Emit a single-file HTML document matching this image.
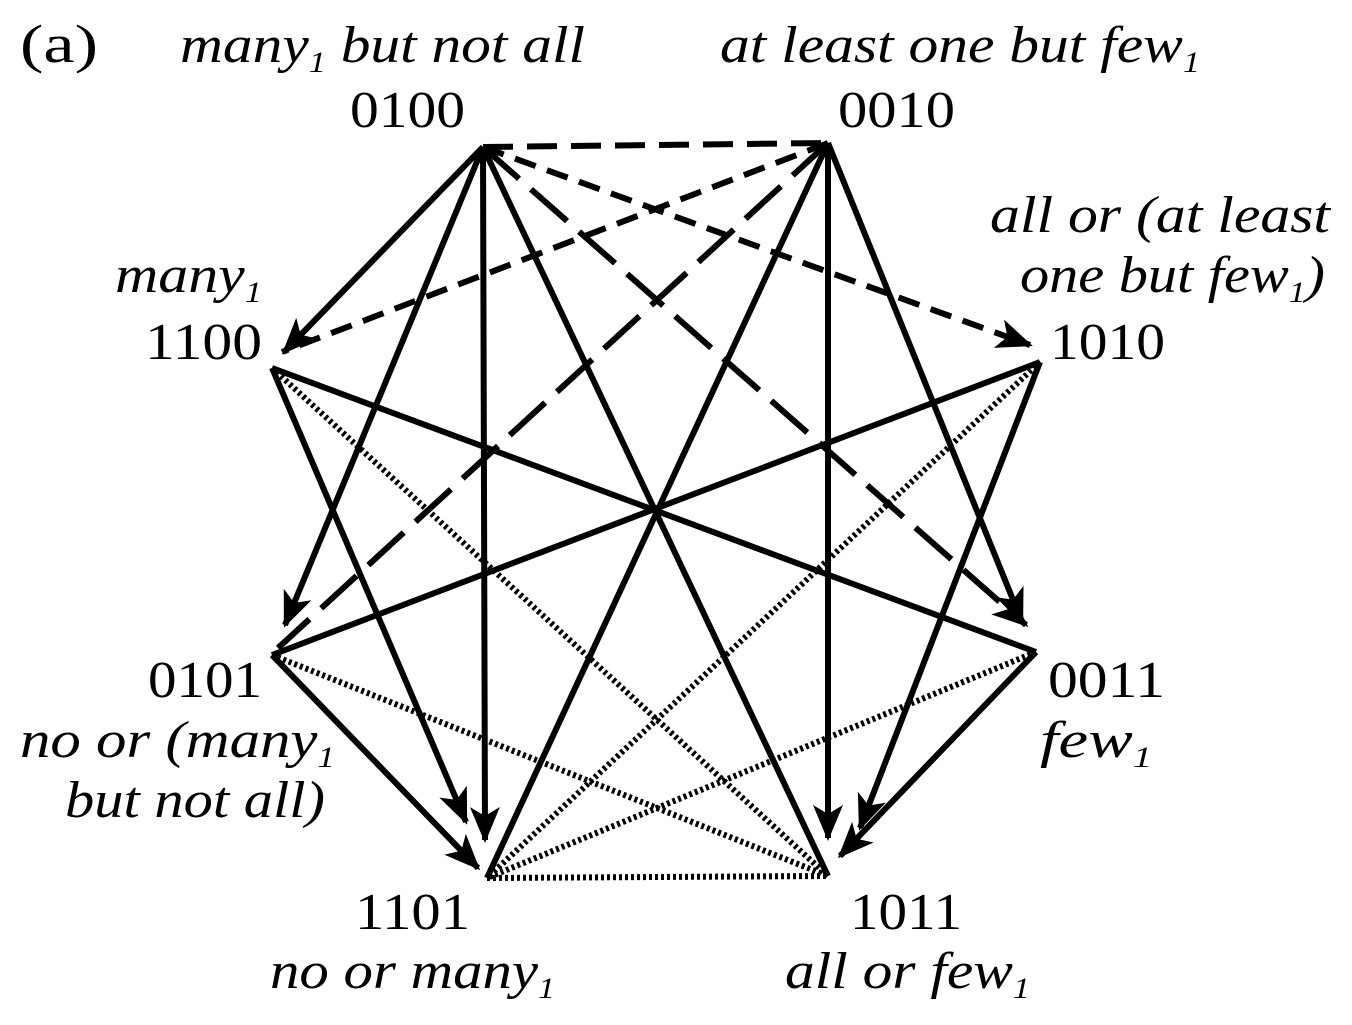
<!DOCTYPE html>
<html><head><meta charset="utf-8"><style>
html,body{margin:0;padding:0;background:#fff;}
svg{display:block;}
text{font-family:"Liberation Serif",serif;font-size:52px;fill:#000;}
.i{font-style:italic;}
</style></head><body>
<svg width="1352" height="1025" viewBox="0 0 1352 1025">
<defs>
<marker id="ar" viewBox="0 0 12 10" refX="11" refY="5" markerWidth="36" markerHeight="30" markerUnits="userSpaceOnUse" orient="auto">
<path d="M0,0 L12,5 L0,10 L3,5 z" fill="#000"/>
</marker>
</defs>
<g stroke="#000" stroke-width="6" fill="none">
<line x1="483" y1="147" x2="284" y2="352" marker-end="url(#ar)"/>
<line x1="483" y1="147" x2="485" y2="840" marker-end="url(#ar)"/>
<line x1="483" y1="147" x2="285" y2="625" marker-end="url(#ar)"/>
<line x1="483" y1="147" x2="828" y2="876"/>
<line x1="828" y1="143" x2="828" y2="838" marker-end="url(#ar)"/>
<line x1="828" y1="143" x2="1022" y2="622" marker-end="url(#ar)"/>
<line x1="828" y1="143" x2="487" y2="878"/>
<line x1="272" y1="368" x2="466" y2="822" marker-end="url(#ar)"/>
<line x1="1040" y1="362" x2="860" y2="828" marker-end="url(#ar)"/>
<line x1="1036" y1="652" x2="840" y2="856" marker-end="url(#ar)"/>
<line x1="272" y1="655" x2="478" y2="868" marker-end="url(#ar)"/>
<line x1="272" y1="368" x2="1036" y2="652"/>
<line x1="1040" y1="362" x2="272" y2="655"/>
<line x1="483" y1="147" x2="828" y2="143" stroke-dasharray="30,14"/>
<line x1="483" y1="147" x2="1030" y2="345" stroke-dasharray="22,12" marker-end="url(#ar)"/>
<line x1="828" y1="143" x2="282" y2="352" stroke-dasharray="22,12"/>
<line x1="828" y1="143" x2="278" y2="648" stroke-dasharray="48,16"/>
<line x1="483" y1="147" x2="1026" y2="625" stroke-dasharray="48,16" marker-end="url(#ar)"/>
<g stroke-dasharray="3,3" stroke-width="6">
<line x1="272" y1="368" x2="828" y2="876"/>
<line x1="1040" y1="362" x2="487" y2="878"/>
<line x1="272" y1="655" x2="828" y2="876"/>
<line x1="1036" y1="652" x2="487" y2="878"/>
<line x1="487" y1="878" x2="828" y2="876"/>
</g>
</g>
<text x="20" y="62" style="font-size:54px" textLength="78" lengthAdjust="spacingAndGlyphs">(a)</text>
<text class="i" x="180" y="62" textLength="405" lengthAdjust="spacingAndGlyphs">many<tspan font-size="30" dy="10">1</tspan><tspan dy="-10"> but not all</tspan></text>
<text class="i" x="720" y="62" textLength="480" lengthAdjust="spacingAndGlyphs">at least one but few<tspan font-size="30" dy="10">1</tspan></text>
<text x="350" y="127" textLength="115" lengthAdjust="spacingAndGlyphs">0100</text>
<text x="838" y="127" textLength="117" lengthAdjust="spacingAndGlyphs">0010</text>
<text class="i" x="990" y="232" textLength="340" lengthAdjust="spacingAndGlyphs">all or (at least</text>
<text class="i" x="1020" y="292" textLength="305" lengthAdjust="spacingAndGlyphs">one but few<tspan font-size="30" dy="10">1</tspan><tspan dy="-10">)</tspan></text>
<text class="i" x="115" y="292" textLength="147" lengthAdjust="spacingAndGlyphs">many<tspan font-size="30" dy="10">1</tspan></text>
<text x="145" y="359" textLength="117" lengthAdjust="spacingAndGlyphs">1100</text>
<text x="1050" y="359" textLength="115" lengthAdjust="spacingAndGlyphs">1010</text>
<text x="148" y="697" textLength="114" lengthAdjust="spacingAndGlyphs">0101</text>
<text x="1048" y="697" textLength="117" lengthAdjust="spacingAndGlyphs">0011</text>
<text class="i" x="20" y="757" textLength="315" lengthAdjust="spacingAndGlyphs">no or (many<tspan font-size="30" dy="10">1</tspan></text>
<text class="i" x="65" y="817" textLength="260" lengthAdjust="spacingAndGlyphs">but not all)</text>
<text class="i" x="1040" y="757" textLength="112" lengthAdjust="spacingAndGlyphs">few<tspan font-size="30" dy="10">1</tspan></text>
<text x="355" y="929" textLength="115" lengthAdjust="spacingAndGlyphs">1101</text>
<text x="850" y="929" textLength="112" lengthAdjust="spacingAndGlyphs">1011</text>
<text class="i" x="270" y="988" textLength="285" lengthAdjust="spacingAndGlyphs">no or many<tspan font-size="30" dy="10">1</tspan></text>
<text class="i" x="785" y="988" textLength="245" lengthAdjust="spacingAndGlyphs">all or few<tspan font-size="30" dy="10">1</tspan></text>
</svg>
</body></html>
